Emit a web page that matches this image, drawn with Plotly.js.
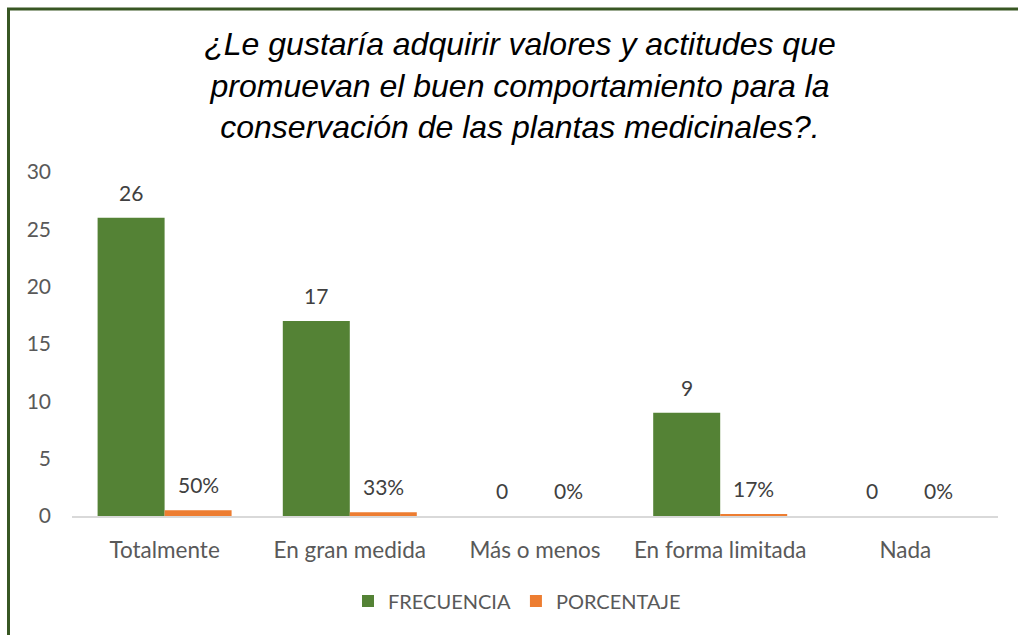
<!DOCTYPE html>
<html>
<head>
<meta charset="utf-8">
<script src="https://cdn.plot.ly/plotly-3.0.1.min.js"></script>
<style>
  html, body { margin: 0; padding: 0; background: #fff; }
  #chart { width: 1018px; height: 635px; }
</style>
</head>
<body>
<div id="chart"></div>
<script>
const categories = ["Totalmente", "En gran medida", "Más o menos", "En forma limitada", "Nada"];
const frecuencia = [26, 17, 0, 9, 0];
const porcentaje = [0.50, 0.33, 0, 0.17, 0];
const seriesNames = ["FRECUENCIA", "PORCENTAJE"];
const yTicks = [0, 5, 10, 15, 20, 25, 30];
const titleText = "¿Le gustaría adquirir valores y actitudes que<br>promuevan el buen comportamiento para la<br>conservación de las plantas medicinales?.";

const GREEN = "#548235";
const ORANGE = "#ED7D31";
const FAM = "Lato, 'Noto Sans', sans-serif";
const XTICKFONT = { family: FAM, size: 22.5, color: "#595959" };
const YTICKFONT = { family: FAM, size: 21, color: "#595959" };
const LABELFONT = { family: FAM, size: 21, color: "#404040" };
const LEGENDFONT = { family: FAM, size: 20, color: "#595959" };

const traces = [
  { type: "bar", name: seriesNames[0], x: categories, y: frecuencia,
    marker: { color: GREEN }, hoverinfo: "skip" },
  { type: "bar", name: seriesNames[1], x: categories, y: porcentaje,
    marker: { color: ORANGE }, hoverinfo: "skip" }
];

const annotations = [];
categories.forEach((c, i) => {
  annotations.push({ x: c, y: frecuencia[i], xref: "x", yref: "y", text: String(frecuencia[i]),
    showarrow: false, xshift: -33.5, yshift: 11, yanchor: "bottom", font: LABELFONT });
  annotations.push({ x: c, y: porcentaje[i], xref: "x", yref: "y", text: Math.round(porcentaje[i] * 100) + "%",
    showarrow: false, xshift: 33.5, yshift: 11, yanchor: "bottom", font: LABELFONT });
});

// border lines (left and top) in paper coords relative to plot area
const L = 72, R = 998, T = 172, B = 516;
const px = v => (v - L) / (R - L);
const py = v => (B - v) / (B - T);
const shapes = [
  { type: "line", xref: "paper", yref: "paper", x0: px(8.5), x1: px(8.5), y0: py(9), y1: py(640),
    line: { color: "#385723", width: 3 } },
  { type: "line", xref: "paper", yref: "paper", x0: px(7), x1: px(1018), y0: py(9), y1: py(9),
    line: { color: "#385723", width: 3 } }
];

const layout = {
  width: 1018, height: 635,
  margin: { l: 72, r: 20, t: 172, b: 119 },
  paper_bgcolor: "#ffffff", plot_bgcolor: "#ffffff",
  title: { text: titleText, x: 520 / 1018, xref: "container", xanchor: "center",
    y: 1 - 55 / 635, yref: "container", yanchor: "top",
    font: { family: "'Liberation Sans', Arial, sans-serif", size: 32, color: "#000000", style: "italic" } },
  barmode: "group", bargap: 0.2765, bargroupgap: 0,
  xaxis: { type: "category", showline: true, linecolor: "#D9D9D9", linewidth: 1.5,
    ticks: "", tickfont: XTICKFONT, ticklabelstandoff: 13, fixedrange: true },
  yaxis: { range: [0, 30], tickvals: yTicks, ticktext: yTicks.map(String), showgrid: false,
    zeroline: false, showline: false, ticks: "", tickfont: YTICKFONT, ticklabelstandoff: 20, fixedrange: true },
  showlegend: true,
  legend: { orientation: "h", x: px(517), xanchor: "center", y: py(601), yanchor: "middle",
    font: LEGENDFONT, itemwidth: 30, tracegroupgap: 0 },
  annotations: annotations,
  shapes: shapes
};

Plotly.newPlot("chart", traces, layout, { staticPlot: true, displayModeBar: false });
</script>
</body>
</html>
